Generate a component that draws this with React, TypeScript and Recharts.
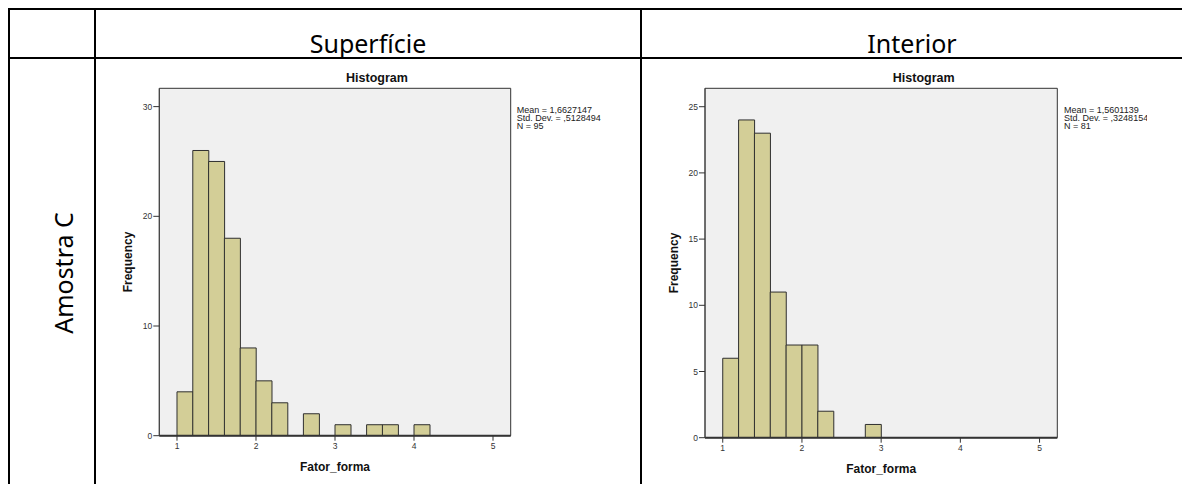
import React from "react";
import { ComposedChart, Bar, XAxis, YAxis, CartesianGrid, ReferenceArea, Label } from "recharts";

// bin mid points (bin width 0.2, starting at 1.0)
const binMids = [1.1, 1.3, 1.5, 1.7, 1.9, 2.1, 2.3, 2.5, 2.7, 2.9, 3.1, 3.3, 3.5, 3.7, 3.9, 4.1];
const superficieCounts = [4, 26, 25, 18, 8, 5, 3, 0, 2, 0, 1, 0, 1, 1, 0, 1];
const interiorCounts = [6, 24, 23, 11, 7, 7, 2, 0, 0, 1, 0, 0, 0, 0, 0, 0];

const xTicks = [1, 2, 3, 4, 5];
const superficieYTicks = [0, 10, 20, 30];
const interiorYTicks = [0, 5, 10, 15, 20, 25];

const superficieStats = ["Mean = 1,6627147", "Std. Dev. = ,5128494", "N = 95"];
const interiorStats = ["Mean = 1,5601139", "Std. Dev. = ,3248154", "N = 81"];

const X_MIN = 0.776;
const X_MAX = 5.224;

const SPSS_FONT = "'Liberation Sans', Arial, sans-serif";
const DOC_FONT = "'Noto Sans', 'Open Sans', sans-serif";

type Margin = { top: number; right: number; bottom: number; left: number };

type HistProps = {
  left: number;
  top: number;
  width: number;
  height: number;
  margin: Margin;
  counts: number[];
  yTicks: number[];
  yMax: number;
  stats: string[];
  titleCenter: number;
  statsLeft: number;
};

function Histogram(p: HistProps) {
  const data = binMids.map((x, i) => ({ x, count: p.counts[i] }));
  const tick = { fill: "#333", fontSize: 8.5, fontFamily: SPSS_FONT };
  return (
    <div style={{ position: "absolute", left: p.left, top: p.top, width: p.width, height: p.height, overflow: "hidden" }}>
      <ComposedChart width={p.width} height={p.height} data={data} margin={p.margin} barCategoryGap={0} barGap={0}>
        <CartesianGrid horizontal={false} vertical={false} fill="#f0f0f0" />
        <XAxis
          dataKey="x"
          type="number"
          domain={[X_MIN, X_MAX]}
          allowDataOverflow
          ticks={xTicks}
          height={20}
          tick={tick}
          tickSize={5}
          tickMargin={2}
          axisLine={{ stroke: "#333", strokeWidth: 2 }}
          tickLine={{ stroke: "#333" }}
        >
          <Label
            content={(lp: any) => {
              const vb = lp.viewBox;
              return (
                <text x={vb.x + vb.width / 2} y={vb.y + 32} textAnchor="middle" dominantBaseline="middle"
                  fontFamily={SPSS_FONT} fontWeight="bold" fontSize={12} fill="#111">
                  Fator_forma
                </text>
              );
            }}
          />
        </XAxis>
        <YAxis
          type="number"
          domain={[0, p.yMax]}
          allowDataOverflow
          ticks={p.yTicks}
          width={30}
          tick={tick}
          tickSize={6}
          tickMargin={1}
          axisLine={{ stroke: "#444" }}
          tickLine={{ stroke: "#333" }}
        >
          <Label
            content={(lp: any) => {
              const vb = lp.viewBox;
              const cx = vb.x;
              const cy = vb.y + vb.height / 2;
              return (
                <text x={cx} y={cy} transform={`rotate(-90 ${cx} ${cy})`} textAnchor="middle" dominantBaseline="middle"
                  fontFamily={SPSS_FONT} fontWeight="bold" fontSize={12} fill="#111">
                  Frequency
                </text>
              );
            }}
          />
        </YAxis>
        <ReferenceArea x1={X_MIN} x2={X_MAX} y1={0} y2={p.yMax} ifOverflow="visible" fill="none" stroke="#333" strokeWidth={1} />
        <Bar dataKey="count" fill="#d3ce97" stroke="#2f2f2f" strokeWidth={1} isAnimationActive={false} />
      </ComposedChart>
      <div
        style={{
          position: "absolute", left: p.titleCenter - 60, width: 120, top: 10, textAlign: "center",
          fontFamily: SPSS_FONT, fontWeight: "bold", fontSize: 12.5, lineHeight: "16px", color: "#111",
        }}
      >
        Histogram
      </div>
      <div
        style={{
          position: "absolute", left: p.statsLeft, top: 46, whiteSpace: "nowrap",
          fontFamily: SPSS_FONT, fontSize: 9, lineHeight: "8px", color: "#222",
        }}
      >
        {p.stats.map((s) => (
          <div key={s}>{s}</div>
        ))}
      </div>
    </div>
  );
}

const line = (l: number, t: number, w: number, h: number): React.CSSProperties => ({
  position: "absolute", left: l, top: t, width: w, height: h, background: "#000",
});

export default function App() {
  return (
    <div style={{ position: "absolute", left: 0, top: 0, width: 1182, height: 484, background: "#fff", overflow: "hidden" }}>
      {/* table grid */}
      <div style={line(8, 8, 1182, 2)} />
      <div style={line(8, 57, 1182, 2)} />
      <div style={line(8, 8, 2, 480)} />
      <div style={line(94, 8, 2, 480)} />
      <div style={line(640, 8, 2, 480)} />

      <div style={{ position: "absolute", left: 96, width: 544, top: 26, textAlign: "center", fontFamily: DOC_FONT, fontSize: 25, lineHeight: "34px", color: "#000" }}>
        Superfície
      </div>
      <div style={{ position: "absolute", left: 642, width: 540, top: 26, textAlign: "center", fontFamily: DOC_FONT, fontSize: 25, lineHeight: "34px", color: "#000" }}>
        Interior
      </div>
      <div
        style={{
          position: "absolute", left: 63 - 100, top: 273 - 17, width: 200, height: 34, textAlign: "center",
          transform: "rotate(-90deg)", fontFamily: DOC_FONT, fontSize: 25, lineHeight: "34px", color: "#000",
        }}
      >
        Amostra C
      </div>

      <Histogram
        left={100}
        top={60}
        width={540}
        height={424}
        margin={{ top: 28.3, right: 129.3, bottom: 28.3, left: 29.3 }}
        counts={superficieCounts}
        yTicks={superficieYTicks}
        yMax={31.67}
        stats={superficieStats}
        titleCenter={277}
        statsLeft={416.7}
      />
      <Histogram
        left={645}
        top={60}
        width={502}
        height={424}
        margin={{ top: 28.3, right: 89.7, bottom: 26.3, left: 30 }}
        counts={interiorCounts}
        yTicks={interiorYTicks}
        yMax={26.39}
        stats={interiorStats}
        titleCenter={278.7}
        statsLeft={419}
      />
    </div>
  );
}
